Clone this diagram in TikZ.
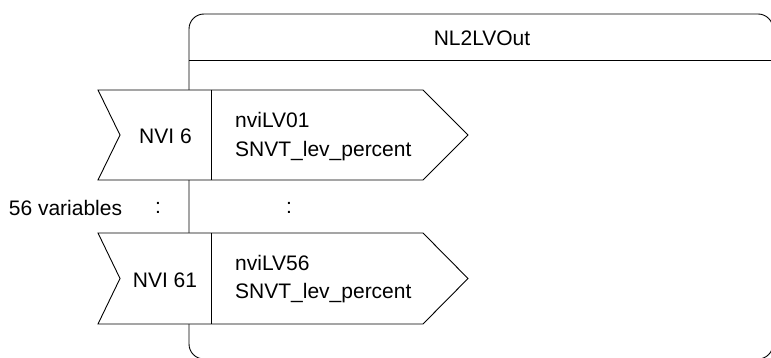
\documentclass[tikz,border=0pt]{standalone}
\usepackage{fontspec}
\setmainfont{Liberation Sans}
\usetikzlibrary{positioning}
\tikzset{blk/.style = {draw, line width = 0.9pt}}
\tikzset{port/.style = {draw, fill = white, line width = 0.9pt, line join = miter}}
\tikzset{lbl/.style = {inner sep = 0, font = \fontsize{21}{29}\selectfont}}

\begin{document}
\begin{tikzpicture}[x = 1pt, y = -1pt]
    \useasboundingbox (0, 0) rectangle (771, 358);
    \clip (0, 0) rectangle (771, 358);

    \draw [blk, rounded corners = 15] (189, 14) rectangle (773, 359);
    \draw [blk] (189, 60) -- (773, 60);
    \node [lbl] (title) at (482, 38) {NL2LVOut};

    \draw [port] (98, 90) -- (423, 90) -- (468, 135) -- (423, 180) -- (98, 180) -- (120, 135) -- cycle;
    \draw [blk] (211, 90) -- (211, 180);
    \node [lbl] (nvi6) at (165.5, 136) {NVI 6};
    \node [lbl, anchor = base west] (lv01) at (235, 128) {nviLV01};
    \node [lbl, anchor = base west] (lv01t) at (235, 157) {SNVT\_lev\_percent};

    \node [lbl] (count) at (65.5, 208) {56 variables};
    \node [lbl] (dotsl) at (158, 208) {:};
    \node [lbl] (dotsr) at (289, 208) {:};

    \draw [port] (98, 233) -- (423, 233) -- (468, 278.5) -- (423, 324) -- (98, 324) -- (120, 278.5) -- cycle;
    \draw [blk] (211, 233) -- (211, 324);
    \node [lbl] (nvi61) at (165, 280) {NVI 61};
    \node [lbl, anchor = base west] (lv56) at (235, 270) {nviLV56};
    \node [lbl, anchor = base west] (lv56t) at (235, 298.5) {SNVT\_lev\_percent};
  \end{tikzpicture}
\end{document}
